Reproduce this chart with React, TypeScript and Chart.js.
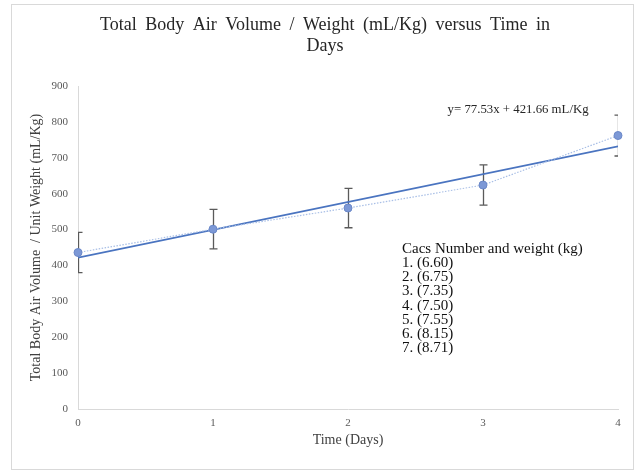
import React, { useEffect, useRef } from 'react';
import { Chart, registerables } from 'chart.js';

Chart.register(...registerables);

// ---- data ----
const days = [0, 1, 2, 3, 4];
const airVolume = [436, 501, 560, 624, 762];
const errorMargins = [56, 55, 55, 56, 57];
const trendDays = [0, 4];
const trendValues = [421.66, 731.78];
const yMin = 0;
const yMax = 900;
const yStep = 100;
const xMin = 0;
const xMax = 4;
const titleLines = ['Total Body Air Volume / Weight (mL/Kg) versus Time in', 'Days'];
const xTitle = 'Time (Days)';
const yTitle = 'Total Body Air Volume  / Unit Weight (mL/Kg)';
const equationText = 'y= 77.53x + 421.66 mL/Kg';
const equationAt = [3.26, 833];
const legendHeader = 'Cacs Number and weight (kg)';
const caseWeights = ['6.60', '6.75', '7.35', '7.50', '7.55', '8.15', '8.71'];
const legendAt = [2.4, 446];

const SERIF = "'Liberation Serif', 'Times New Roman', Times, serif";

const extras = {
  id: 'extras',
  beforeDraw(chart: any) {
    const ctx = chart.ctx;
    ctx.save();
    ctx.strokeStyle = '#d9d9d9';
    ctx.lineWidth = 1;
    ctx.strokeRect(11.5, 4.5, 622, 465);
    ctx.restore();
  },
  beforeDatasetsDraw(chart: any) {
    const { ctx, chartArea, scales } = chart;
    const xs = scales.x;
    const ys = scales.y;
    ctx.save();
    ctx.beginPath();
    ctx.rect(chartArea.left, chartArea.top, chartArea.right - chartArea.left, chartArea.bottom - chartArea.top);
    ctx.clip();
    ctx.strokeStyle = '#5a5a5a';
    ctx.lineWidth = 1.3;
    days.forEach((d, i) => {
      const px = Math.round(xs.getPixelForValue(d)) + 0.5;
      const top = ys.getPixelForValue(airVolume[i] + errorMargins[i]);
      const bot = ys.getPixelForValue(airVolume[i] - errorMargins[i]);
      ctx.beginPath();
      ctx.moveTo(px, top);
      ctx.lineTo(px, bot);
      ctx.moveTo(px - 4, top);
      ctx.lineTo(px + 4, top);
      ctx.moveTo(px - 4, bot);
      ctx.lineTo(px + 4, bot);
      ctx.stroke();
    });
    ctx.restore();
  },
  afterDatasetsDraw(chart: any) {
    const { ctx, scales } = chart;
    const xs = scales.x;
    const ys = scales.y;
    ctx.save();
    ctx.fillStyle = '#262626';
    ctx.font = `12.8px ${SERIF}`;
    ctx.textAlign = 'center';
    ctx.textBaseline = 'middle';
    ctx.fillText(equationText, xs.getPixelForValue(equationAt[0]), ys.getPixelForValue(equationAt[1]));

    ctx.fillStyle = '#111111';
    ctx.font = `15px ${SERIF}`;
    ctx.textAlign = 'left';
    const lx = xs.getPixelForValue(legendAt[0]);
    const ly = ys.getPixelForValue(legendAt[1]);
    const lines = [legendHeader, ...caseWeights.map((w, i) => `${i + 1}. (${w})`)];
    lines.forEach((t, i) => ctx.fillText(t, lx, ly + i * 14.2));
    ctx.restore();
  },
  afterDraw(chart: any) {
    const ctx = chart.ctx;
    ctx.save();
    ctx.fillStyle = '#262626';
    ctx.font = `18px ${SERIF}`;
    ctx.textAlign = 'center';
    ctx.textBaseline = 'middle';
    try { (ctx as any).wordSpacing = '4px'; } catch (e) {}
    titleLines.forEach((t, i) => ctx.fillText(t, 325, 25 + i * 21.6));
    ctx.restore();
  },
};

export default function App() {
  const ref = useRef<HTMLCanvasElement | null>(null);

  useEffect(() => {
    if (!ref.current) return;
    const chart = new Chart(ref.current, {
      type: 'scatter',
      data: {
        datasets: [
          {
            label: 'Air volume',
            data: days.map((d, i) => ({ x: d, y: airVolume[i] })),
            showLine: true,
            clip: false,
            borderColor: '#a9bfe6',
            borderWidth: 1.2,
            borderDash: [1.5, 1.5],
            pointRadius: 4,
            pointBackgroundColor: '#7c98d6',
            pointBorderColor: '#6b88c8',
            pointBorderWidth: 1,
          },
          {
            label: 'Trend',
            data: trendDays.map((d, i) => ({ x: d, y: trendValues[i] })),
            showLine: true,
            borderColor: '#4a74c0',
            borderWidth: 1.6,
            pointRadius: 0,
          },
        ],
      },
      options: {
        responsive: false,
        animation: false,
        devicePixelRatio: 1,
        layout: { padding: { left: 0, right: 20, top: 0, bottom: 0 } },
        plugins: {
          legend: { display: false },
          tooltip: { enabled: false },
          title: {
            display: true,
            text: titleLines,
            color: 'rgba(0,0,0,0)',
            font: { family: SERIF, size: 18, weight: 'normal', lineHeight: 1.2 },
            padding: { top: 14, bottom: 28.8 },
          },
        },
        scales: {
          x: {
            type: 'linear',
            min: xMin,
            max: xMax,
            afterFit: (s: any) => { s.height = 63; },
            ticks: { stepSize: 1, color: '#595959', font: { family: SERIF, size: 11 }, padding: 8 },
            grid: { display: false, drawTicks: false },
            border: { display: true, color: '#d9d9d9', width: 1 },
            title: {
              display: true,
              text: xTitle,
              color: '#404040',
              font: { family: SERIF, size: 14 },
              padding: { top: 0, bottom: 23 },
            },
          },
          y: {
            type: 'linear',
            min: yMin,
            max: yMax,
            afterFit: (s: any) => { s.width = 78; },
            ticks: { stepSize: yStep, color: '#595959', font: { family: SERIF, size: 11 }, padding: 10 },
            grid: { display: false, drawTicks: false },
            border: { display: true, color: '#d9d9d9', width: 1 },
            title: {
              display: true,
              text: yTitle,
              color: '#404040',
              font: { family: SERIF, size: 14 },
              padding: { top: 28, bottom: 0 },
            },
          },
        },
      },
      plugins: [extras],
    });
    return () => chart.destroy();
  }, []);

  return (
    <div style={{ position: 'fixed', left: 0, top: 0, width: 638, height: 472, background: '#ffffff' }}>
      <canvas ref={ref} width={638} height={472} style={{ width: 638, height: 472, display: 'block' }} />
    </div>
  );
}
